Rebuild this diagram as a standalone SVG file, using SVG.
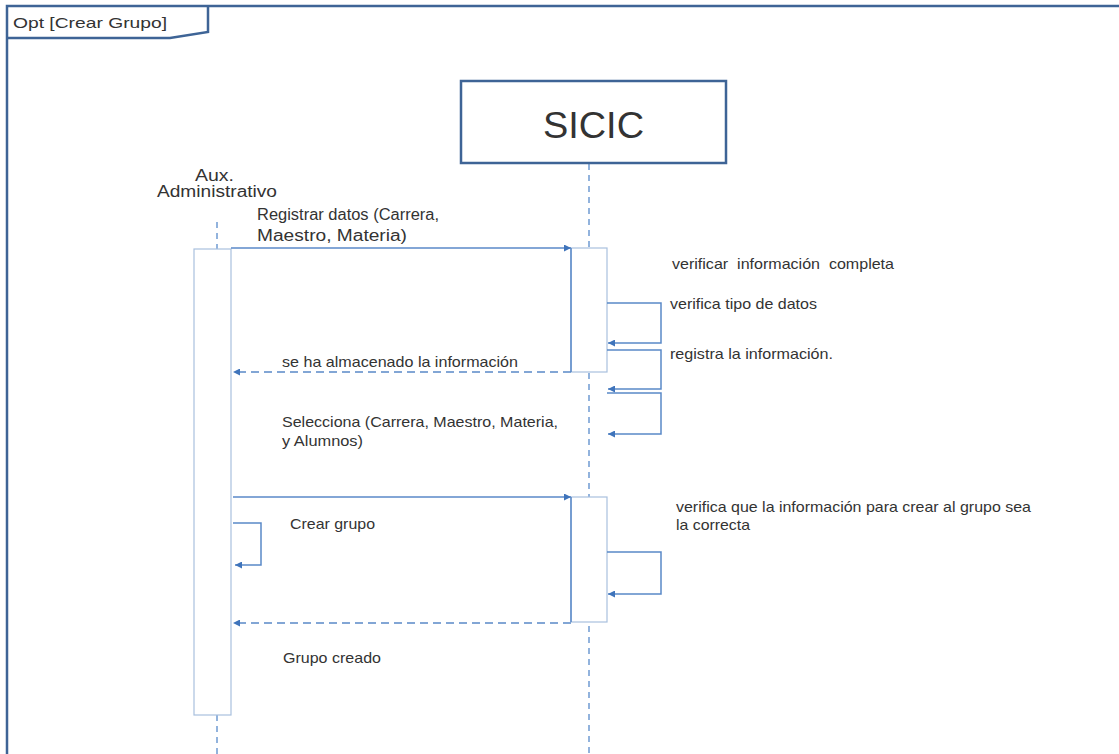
<svg xmlns="http://www.w3.org/2000/svg" width="1119" height="754" viewBox="0 0 1119 754">
  <style>
    text { font-family: "Liberation Sans", Arial, sans-serif; fill: #333333; }
    .frame { fill: none; stroke: #3e6496; stroke-width: 2.5; }
    .life { fill: none; stroke: #6f9ad2; stroke-width: 1.5; stroke-dasharray: 6 5; }
    .act { fill: #ffffff; stroke: #a9c0de; stroke-width: 1.2; }
    .msg { fill: none; stroke: #5a89c8; stroke-width: 1.5; }
    .ret { fill: none; stroke: #5a89c8; stroke-width: 1.5; stroke-dasharray: 8 5; }
    .lbl { font-size: 15px; }
  </style>
  <defs>
    <marker id="ah" viewBox="0 0 10 10" refX="10" refY="5" markerWidth="7" markerHeight="7" markerUnits="userSpaceOnUse" orient="auto">
      <path d="M0,0 L10,5 L0,10 Z" fill="#3f74bb"/>
    </marker>
  </defs>
  <rect width="1119" height="754" fill="#ffffff"/>

  <!-- combined fragment frame -->
  <g id="fragment">
    <path class="frame" d="M7,754 V6 H1119"/>
    <path class="frame" d="M7,38 H170 L208,32 V6"/>
    <text x="13" y="28" font-size="15" textLength="154" lengthAdjust="spacingAndGlyphs">Opt [Crear Grupo]</text>
  </g>

  <!-- lifelines -->
  <g id="lifelines">
    <line class="life" x1="217" y1="222" x2="217" y2="249"/>
    <line class="life" x1="217" y1="715" x2="217" y2="754"/>
    <line class="life" x1="589" y1="164" x2="589" y2="754"/>
  </g>

  <g id="aux-administrativo">
    <text x="195" y="181" font-size="16" textLength="39" lengthAdjust="spacingAndGlyphs">Aux.</text>
    <text x="157" y="197" font-size="16" textLength="120" lengthAdjust="spacingAndGlyphs">Administrativo</text>
    <rect class="act" x="194" y="249" width="37" height="466"/>
  </g>

  <g id="sicic">
    <rect x="461" y="81" width="265" height="82" fill="#ffffff" stroke="#3e6496" stroke-width="2.5"/>
    <text x="543" y="138" font-size="37" textLength="101" lengthAdjust="spacingAndGlyphs">SICIC</text>
    <rect class="act" x="571" y="248" width="36" height="124"/>
    <rect class="act" x="571" y="497" width="36" height="125"/>
  </g>

  <!-- messages -->
  <g id="connectors">
    <line class="msg" x1="231" y1="248" x2="571" y2="248" marker-end="url(#ah)"/>
    <line class="msg" x1="571" y1="248" x2="571" y2="372"/>
    <path class="msg" d="M607,303 H661 V343 H608" marker-end="url(#ah)"/>
    <path class="msg" d="M607,350 H661 V389 H608" marker-end="url(#ah)"/>
    <path class="msg" d="M607,393 H661 V434 H608" marker-end="url(#ah)"/>
    <line class="ret" x1="571" y1="372" x2="233" y2="372" marker-end="url(#ah)"/>
    <line class="msg" x1="233" y1="497" x2="571" y2="497" marker-end="url(#ah)"/>
    <line class="msg" x1="571" y1="497" x2="571" y2="622"/>
    <path class="msg" d="M233,523 H261 V565 H235" marker-end="url(#ah)"/>
    <path class="msg" d="M607,552 H661 V594 H608" marker-end="url(#ah)"/>
    <line class="ret" x1="571" y1="623" x2="233" y2="623" marker-end="url(#ah)"/>
  </g>

  <g id="labels">
    <text x="257" y="220" font-size="16" textLength="182" lengthAdjust="spacingAndGlyphs">Registrar datos (Carrera,</text>
    <text x="257" y="241" font-size="16" textLength="150" lengthAdjust="spacingAndGlyphs">Maestro, Materia)</text>
    <text x="672" y="269" class="lbl" xml:space="preserve" textLength="222" lengthAdjust="spacingAndGlyphs">verificar  información  completa</text>
    <text x="670" y="309" class="lbl" textLength="147" lengthAdjust="spacingAndGlyphs">verifica tipo de datos</text>
    <text x="670" y="359" class="lbl" textLength="163" lengthAdjust="spacingAndGlyphs">registra la información.</text>
    <text x="282" y="367" class="lbl" textLength="236" lengthAdjust="spacingAndGlyphs">se ha almacenado la información</text>
    <text x="282" y="427" class="lbl" textLength="276" lengthAdjust="spacingAndGlyphs">Selecciona (Carrera, Maestro, Materia,</text>
    <text x="282" y="446" class="lbl" textLength="81" lengthAdjust="spacingAndGlyphs">y Alumnos)</text>
    <text x="676" y="512" class="lbl" textLength="355" lengthAdjust="spacingAndGlyphs">verifica que la información para crear al grupo sea</text>
    <text x="676" y="530" class="lbl" textLength="74" lengthAdjust="spacingAndGlyphs">la correcta</text>
    <text x="290" y="529" class="lbl" textLength="85" lengthAdjust="spacingAndGlyphs">Crear grupo</text>
    <text x="283" y="663" class="lbl" textLength="98" lengthAdjust="spacingAndGlyphs">Grupo creado</text>
  </g>
</svg>
